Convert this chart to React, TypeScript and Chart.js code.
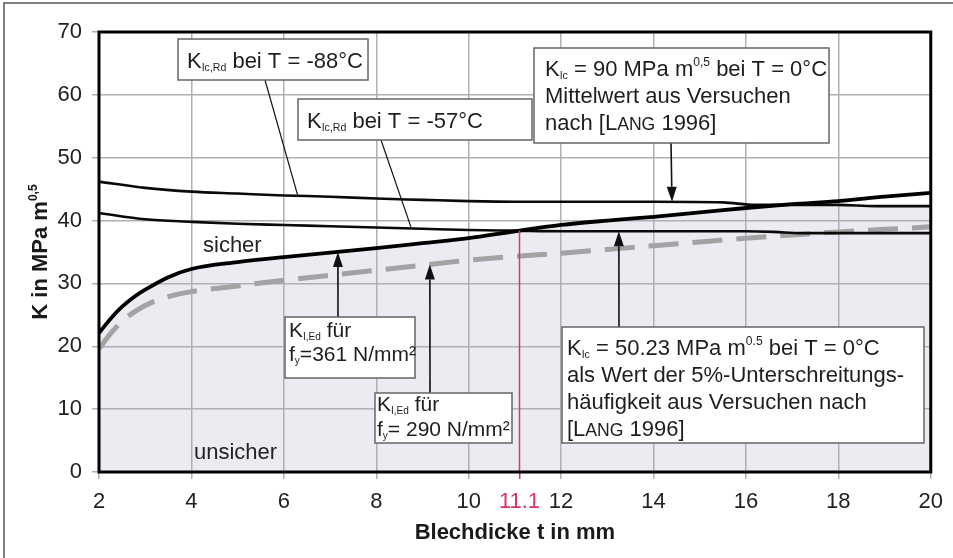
import React, { useEffect, useRef } from "react";
import { Chart, registerables } from "chart.js";

Chart.register(...registerables);

// ---------- data ----------
const xTicks = [2, 4, 6, 8, 10, 11.1, 12, 14, 16, 18, 20];
const yTicks = [0, 10, 20, 30, 40, 50, 60, 70];
const markX = 11.1;
const markTop = 38.4;

// K_Ic,Rd at T = -88 °C
const xA = [2, 3, 4, 5, 6, 7, 8, 9, 10, 11, 12, 14, 15.5, 16.2, 18, 18.8, 20];
const yA = [46.2, 45.2, 44.6, 44.3, 44.0, 43.8, 43.5, 43.3, 43.1, 43.0, 43.0, 43.0, 42.9, 42.5, 42.5, 42.3, 42.3];
// K_Ic,Rd at T = -57 °C
const xB = [2, 3, 4, 5, 6, 7, 8, 9, 10, 11, 12, 14, 16, 16.6, 17.2, 18, 20];
const yB = [41.2, 40.2, 39.8, 39.5, 39.3, 39.1, 38.9, 38.7, 38.5, 38.4, 38.3, 38.3, 38.3, 38.2, 38.0, 38.0, 38.0];
// K_I,Ed for f_y = 361 N/mm²
const xC = [2, 2.25, 2.5, 2.75, 3, 3.5, 4, 5, 6, 7, 8, 9, 10, 11, 12, 13, 14, 15, 16, 17, 18, 19, 20];
const yC = [22.1, 24.4, 26.3, 27.8, 29.0, 31.0, 32.3, 33.4, 34.2, 34.9, 35.6, 36.4, 37.2, 38.3, 39.3, 40.0, 40.6, 41.3, 42.0, 42.6, 43.1, 43.8, 44.4];
// K_I,Ed for f_y = 290 N/mm²
const xD = [2, 2.25, 2.5, 2.75, 3, 3.5, 4, 5, 6, 7, 8, 9, 10, 11, 12, 13, 14, 15, 16, 17, 18, 19, 20];
const yD = [19.6, 22.0, 24.0, 25.4, 26.5, 27.9, 28.7, 29.6, 30.5, 31.3, 32.1, 32.9, 33.7, 34.3, 34.8, 35.4, 36.0, 36.6, 37.2, 37.7, 38.2, 38.6, 39.0];
// upper edge of the shaded "unsicher" region
const xUnsafe = [2, 2.25, 2.5, 2.75, 3, 3.5, 4, 5, 6, 7, 8, 9, 10, 11, 12, 13, 14, 15, 16, 16.4, 17, 18, 18.8, 20];
const yUnsafe = [22.1, 24.4, 26.3, 27.8, 29.0, 31.0, 32.3, 33.4, 34.2, 34.9, 35.6, 36.4, 37.2, 38.3, 39.3, 40.0, 40.6, 41.3, 42.0, 42.5, 42.5, 42.5, 42.3, 42.3];

// ---------- helpers ----------
type Seg = { t: string; k?: "sub" | "sup" | "sc" };
const FAM = '"Liberation Sans", Arial, Helvetica, sans-serif';

function segFont(s: Seg, size: number, bold: boolean) {
  let fs = size;
  let dy = 0;
  if (s.k === "sub") { fs = size * 0.48; dy = size * 0.14; }
  if (s.k === "sup") { fs = size * 0.55; dy = -size * 0.45; }
  if (s.k === "sc") { fs = size * 0.8; }
  return { font: `${bold ? "bold " : ""}${fs}px ${FAM}`, dy };
}
function measureRich(ctx: CanvasRenderingContext2D, segs: Seg[], size: number, bold = false) {
  let w = 0;
  for (const s of segs) {
    ctx.font = segFont(s, size, bold).font;
    w += ctx.measureText(s.t).width;
  }
  return w;
}
function drawRich(ctx: CanvasRenderingContext2D, segs: Seg[], x: number, y: number, size: number, bold = false) {
  let cx = x;
  ctx.textBaseline = "alphabetic";
  ctx.textAlign = "left";
  for (const s of segs) {
    const f = segFont(s, size, bold);
    ctx.font = f.font;
    ctx.fillText(s.t, cx, y + f.dy);
    cx += ctx.measureText(s.t).width;
  }
}

type Box = {
  x: number; y: number; w: number; h: number;
  tx: number; size: number; baselines: number[]; lines: Seg[][];
  from: [number, number]; to: { x: number; y: number }; arrow: boolean;
};

const boxes: Box[] = [
  {
    x: 178, y: 39, w: 190, h: 41, tx: 187, size: 22, baselines: [68],
    lines: [[{ t: "K" }, { t: "Ic,Rd", k: "sub" }, { t: " bei T = -88°C" }]],
    from: [265, 80], to: { x: 6.3, y: 44.0 }, arrow: false,
  },
  {
    x: 298, y: 99, w: 234, h: 41, tx: 307, size: 22, baselines: [128],
    lines: [[{ t: "K" }, { t: "Ic,Rd", k: "sub" }, { t: " bei T = -57°C" }]],
    from: [381, 140], to: { x: 8.75, y: 39.0 }, arrow: false,
  },
  {
    x: 534, y: 48, w: 295, h: 95, tx: 545, size: 22, baselines: [76, 103, 130],
    lines: [
      [{ t: "K" }, { t: "Ic", k: "sub" }, { t: " = 90 MPa m" }, { t: "0,5", k: "sup" }, { t: " bei T = 0°C" }],
      [{ t: "Mittelwert aus Versuchen" }],
      [{ t: "nach [L" }, { t: "ANG", k: "sc" }, { t: " 1996]" }],
    ],
    from: [671, 143], to: { x: 14.4, y: 43.0 }, arrow: true,
  },
  {
    x: 285, y: 317, w: 130, h: 61, tx: 289, size: 21, baselines: [337, 361],
    lines: [
      [{ t: "K" }, { t: "I,Ed", k: "sub" }, { t: " für" }],
      [{ t: "f" }, { t: "y", k: "sub" }, { t: "=361 N/mm²" }],
    ],
    from: [338, 317], to: { x: 7.17, y: 35.0 }, arrow: true,
  },
  {
    x: 375, y: 393, w: 137, h: 50, tx: 377, size: 21, baselines: [411, 436],
    lines: [
      [{ t: "K" }, { t: "I,Ed", k: "sub" }, { t: " für" }],
      [{ t: "f" }, { t: "y", k: "sub" }, { t: "= 290 N/mm²" }],
    ],
    from: [430, 393], to: { x: 9.16, y: 33.0 }, arrow: true,
  },
  {
    x: 562, y: 327, w: 362, h: 116, tx: 567, size: 22, baselines: [355, 382, 409, 436],
    lines: [
      [{ t: "K" }, { t: "Ic", k: "sub" }, { t: " = 50.23 MPa m" }, { t: "0.5", k: "sup" }, { t: " bei T = 0°C" }],
      [{ t: "als Wert der 5%-Unterschreitungs-" }],
      [{ t: "häufigkeit aus Versuchen nach" }],
      [{ t: "[L" }, { t: "ANG", k: "sc" }, { t: " 1996]" }],
    ],
    from: [619, 327], to: { x: 13.25, y: 38.3 }, arrow: true,
  },
];

const pts = (xs: number[], ys: number[]) => xs.map((x, i) => ({ x, y: ys[i] }));

const decorPlugin = {
  id: "decor",
  afterDatasetsDraw(chart: any) {
    const { ctx, chartArea: a, scales } = chart;
    const xs = scales.x, ys = scales.y;
    ctx.save();
    // red marker at t = 11.1
    ctx.strokeStyle = "#e2336b";
    ctx.lineWidth = 1.5;
    const px = xs.getPixelForValue(markX);
    ctx.beginPath();
    ctx.moveTo(px, ys.getPixelForValue(markTop));
    ctx.lineTo(px, ys.getPixelForValue(0));
    ctx.stroke();
    // thick plot frame
    ctx.strokeStyle = "#000";
    ctx.lineWidth = 3;
    ctx.strokeRect(a.left, a.top, a.right - a.left, a.bottom - a.top);
    ctx.restore();
  },
  afterDraw(chart: any) {
    const { ctx, scales } = chart;
    const xs = scales.x, ys = scales.y;
    ctx.save();
    // outer image frame (top + left)
    ctx.strokeStyle = "#555";
    ctx.lineWidth = 1.5;
    ctx.beginPath();
    ctx.moveTo(4, 558);
    ctx.lineTo(4, 3);
    ctx.lineTo(953, 3);
    ctx.stroke();

    // region labels
    ctx.fillStyle = "#222";
    drawRich(ctx, [{ t: "sicher" }], 203, 252, 22);
    drawRich(ctx, [{ t: "unsicher" }], 194, 459, 22);

    // y axis title (rotated)
    const ySegs: Seg[] = [{ t: "K in MPa m" }, { t: "0,5", k: "sup" }];
    const w = measureRich(ctx, ySegs, 22, true);
    ctx.save();
    ctx.translate(47, 252);
    ctx.rotate(-Math.PI / 2);
    ctx.fillStyle = "#1a1a1a";
    drawRich(ctx, ySegs, -w / 2, 0, 22, true);
    ctx.restore();

    // annotation boxes with leaders / arrows
    for (const b of boxes) {
      const tx = xs.getPixelForValue(b.to.x);
      const ty = ys.getPixelForValue(b.to.y);
      const [fx, fy] = b.from;
      ctx.strokeStyle = "#111";
      ctx.fillStyle = "#111";
      ctx.lineWidth = b.arrow ? 1.6 : 1.2;
      const ang = Math.atan2(ty - fy, tx - fx);
      const hl = 15, hw = 5;
      const ex = b.arrow ? tx - Math.cos(ang) * hl : tx;
      const ey = b.arrow ? ty - Math.sin(ang) * hl : ty;
      ctx.beginPath();
      ctx.moveTo(fx, fy);
      ctx.lineTo(ex, ey);
      ctx.stroke();
      if (b.arrow) {
        ctx.beginPath();
        ctx.moveTo(tx, ty);
        ctx.lineTo(ex + Math.sin(ang) * hw, ey - Math.cos(ang) * hw);
        ctx.lineTo(ex - Math.sin(ang) * hw, ey + Math.cos(ang) * hw);
        ctx.closePath();
        ctx.fill();
      }
      ctx.fillStyle = "#fff";
      ctx.fillRect(b.x, b.y, b.w, b.h);
      ctx.strokeStyle = "#666";
      ctx.lineWidth = 1.5;
      ctx.strokeRect(b.x, b.y, b.w, b.h);
      ctx.fillStyle = "#1e1e1e";
      b.lines.forEach((ln, i) => drawRich(ctx, ln, b.tx, b.baselines[i], b.size));
    }
    ctx.restore();
  },
};

export default function App() {
  const ref = useRef<HTMLCanvasElement | null>(null);

  useEffect(() => {
    document.body.style.margin = "0";
    const canvas = ref.current;
    if (!canvas) return;
    const gridColor = "#b0b0b0";
    const chart = new Chart(canvas, {
      type: "line",
      data: {
        datasets: [
          {
            label: "unsicher",
            data: pts(xUnsafe, yUnsafe),
            fill: "origin",
            backgroundColor: "rgba(170,170,200,0.24)",
            borderWidth: 0,
            pointRadius: 0,
            cubicInterpolationMode: "monotone",
            order: 10,
          },
          {
            label: "f_y=290",
            data: pts(xD, yD),
            borderColor: "#a3a3a3",
            borderWidth: 5,
            borderDash: [30, 14],
            pointRadius: 0,
            fill: false,
            cubicInterpolationMode: "monotone",
            order: 3,
          },
          {
            label: "-57",
            data: pts(xB, yB),
            borderColor: "#0a0a0a",
            borderWidth: 2.6,
            pointRadius: 0,
            fill: false,
            cubicInterpolationMode: "monotone",
            order: 2,
          },
          {
            label: "-88",
            data: pts(xA, yA),
            borderColor: "#0a0a0a",
            borderWidth: 2.6,
            pointRadius: 0,
            fill: false,
            cubicInterpolationMode: "monotone",
            order: 1,
          },
          {
            label: "f_y=361",
            data: pts(xC, yC),
            borderColor: "#000",
            borderWidth: 3.8,
            pointRadius: 0,
            fill: false,
            cubicInterpolationMode: "monotone",
            order: 0,
          },
        ],
      },
      options: {
        animation: false,
        responsive: true,
        maintainAspectRatio: false,
        layout: { padding: { left: 0, right: 22, top: 32, bottom: 0 } },
        plugins: { legend: { display: false }, tooltip: { enabled: false } },
        scales: {
          x: {
            type: "linear",
            min: 2,
            max: 20,
            afterBuildTicks: (s: any) => { s.ticks = xTicks.map((v) => ({ value: v })); },
            afterFit: (s: any) => { s.height = 86; },
            border: { display: false },
            grid: {
              color: (c: any) => (c.tick && c.tick.value === markX ? "rgba(0,0,0,0)" : gridColor),
              tickColor: (c: any) => (c.tick && c.tick.value === markX ? "#e2336b" : gridColor),
              lineWidth: 1.5,
              tickLength: 7,
            },
            ticks: {
              autoSkip: false,
              maxRotation: 0,
              padding: 10,
              color: (c: any) => (c.tick && c.tick.value === markX ? "#d6336c" : "#222"),
              font: { family: FAM, size: 22 },
              callback: (v: any) => String(v),
            },
            title: {
              display: true,
              text: "Blechdicke t in mm",
              color: "#1a1a1a",
              font: { family: FAM, size: 22, weight: "bold" },
              padding: { top: 0, bottom: 12 },
            },
          },
          y: {
            type: "linear",
            min: 0,
            max: 70,
            afterBuildTicks: (s: any) => { s.ticks = yTicks.map((v) => ({ value: v })); },
            afterFit: (s: any) => { s.width = 99; },
            border: { display: false },
            grid: { color: gridColor, lineWidth: 1.5, tickLength: 7 },
            ticks: {
              padding: 10,
              color: "#222",
              font: { family: FAM, size: 22 },
            },
            title: { display: false },
          },
        },
      },
      plugins: [decorPlugin],
    } as any);
    return () => chart.destroy();
  }, []);

  return (
    <div style={{ position: "relative", width: 953, height: 558, background: "#fff" }}>
      <canvas ref={ref} />
    </div>
  );
}
